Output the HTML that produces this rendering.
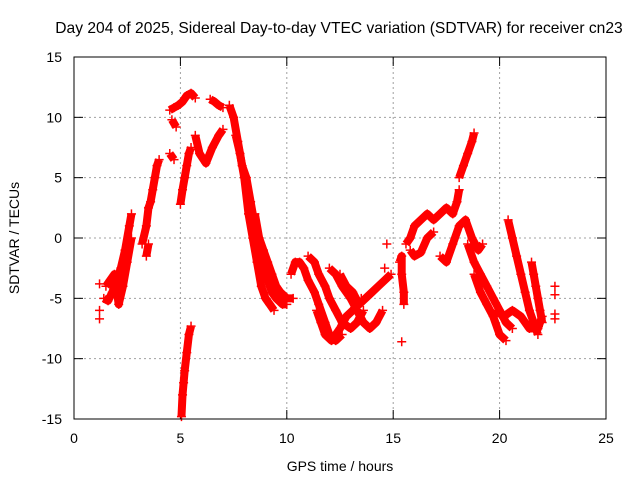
<!DOCTYPE html>
<html><head><meta charset="utf-8"><style>
body{margin:0;background:#fff}
svg text{font-family:"Liberation Sans",sans-serif;font-size:14px;fill:#000}
</style></head><body>
<svg id="chart" width="640" height="480" viewBox="0 0 640 480">
<rect width="640" height="480" fill="#fff"/>
<text x="339" y="33" text-anchor="middle" style="font-size:15.6px">Day 204 of 2025, Sidereal Day-to-day VTEC variation (SDTVAR) for receiver cn23</text>
<g id="grid"></g><g id="axes"></g><g id="marks"></g>
<rect x="74" y="57" width="532" height="362" fill="none" stroke="#000"/>
<text x="340" y="471" text-anchor="middle">GPS time / hours</text>
<text transform="translate(19,238) rotate(-90)" text-anchor="middle">SDTVAR / TECUs</text>
</svg>
<script>
const xTicks=[0,5,10,15,20,25];
const yTicks=[15,10,5,0,-5,-10,-15];
const tracks=[
[[1.4,-5],[1.6,-5.2],[1.8,-4.5],[2.0,-3.5],[2.2,-2.5],[2.4,-1],[2.6,1],[2.7,2]],
[[1.5,-4],[1.7,-3.5],[1.9,-3],[2.1,-5.5],[2.3,-4],[2.5,-2],[2.7,0]],
[[1.2,-3.8]],[[1.2,-6]],[[1.2,-6.7]],
[[3.2,-0.5],[3.4,1],[3.5,2.5],[3.6,3],[3.7,4],[3.8,5],[3.9,6],[4.0,6.5]],
[[3.4,-1.5],[3.5,-0.5]],
[[4.5,10.6],[4.7,10.8],[4.9,11],[5.1,11.3],[5.3,11.8],[5.5,12],[5.7,11.6]],
[[4.6,9.8],[4.8,9.2]],
[[6.4,11.5],[6.6,11.3],[6.8,11],[7.0,10.8]],
[[4.5,7],[4.7,6.5]],
[[5.0,2.8],[5.1,4],[5.2,5],[5.3,6],[5.4,7],[5.5,7.5]],
[[5.05,-14.8],[5.1,-13],[5.15,-12],[5.2,-11],[5.3,-9.5],[5.4,-8],[5.5,-7.3]],
[[5.7,8.5],[5.9,7],[6.2,6.2],[6.5,7.5],[6.8,8.5],[7.0,9]],
[[7.3,11],[7.5,10],[7.7,8],[7.9,6],[8.1,5],[8.3,3],[8.5,1],[8.7,-1],[8.9,-2.5],[9.1,-3.5],[9.3,-4.5],[9.5,-5],[9.8,-5.5],[10,-5.5]],
[[7.6,8.5],[7.8,7],[8.0,5],[8.2,2],[8.4,0],[8.6,-2],[8.8,-4],[9.0,-5],[9.2,-5.5],[9.4,-6]],
[[8.5,2],[8.7,0],[8.9,-1],[9.1,-2],[9.3,-3],[9.5,-4],[9.7,-4.5],[10,-5],[10.3,-5]],
[[10.2,-3],[10.4,-2],[10.6,-2],[10.8,-2.5],[11,-3.5],[11.3,-4.5],[11.5,-5.5],[11.8,-7],[12,-8],[12.3,-8.5],[12.6,-8]],
[[11,-1.5],[11.3,-2],[11.5,-3],[11.8,-4],[12,-5],[12.3,-6],[12.6,-7],[13,-7.5],[13.3,-7],[13.6,-6]],
[[12,-2.5],[12.3,-3],[12.6,-4],[13,-5],[13.3,-6],[13.6,-7],[13.9,-7.5],[14.2,-7],[14.5,-6]],
[[12.5,-3],[12.8,-4],[13.1,-4.5],[13.4,-5.5],[13.7,-5],[14,-4.5],[14.3,-4],[14.6,-3.5],[14.9,-3]],
[[11.4,-6],[11.6,-7],[11.8,-8],[12.1,-8.5],[12.5,-7.5],[12.8,-6.5],[13.1,-6],[13.5,-5]],
[[14.7,-0.5]],[[14.6,-2.5]],[[15.4,-8.6]],
[[15.3,-2],[15.4,-1.5],[15.4,-3],[15.5,-4.5],[15.5,-5.5]],
[[15.6,-0.5],[15.8,0],[16,1],[16.3,1.5],[16.6,2],[16.9,1.5],[17.2,2],[17.5,2.5],[17.8,2],[18,3],[18.1,4]],
[[15.8,-1],[16,-1.5],[16.3,-1.2],[16.6,0],[16.9,0.5]],
[[18.1,5],[18.3,6],[18.5,7],[18.7,8],[18.8,8.7]],
[[17.2,-1.5],[17.5,-2],[17.8,-0.5],[18.1,1],[18.4,1.5],[18.7,0],[19,-1],[19.2,-0.5]],
[[18.5,-0.5],[18.8,-2],[19.1,-3],[19.4,-4],[19.7,-5],[20,-6],[20.3,-7],[20.6,-7.5]],
[[18.8,-3],[19.1,-4.5],[19.4,-5.5],[19.7,-6.5],[20,-8],[20.3,-8.5]],
[[20.4,1.5],[20.6,0],[20.8,-1.5],[21,-3],[21.2,-4.5],[21.4,-6],[21.6,-7],[21.8,-8]],
[[19.8,-6],[20.2,-6.5],[20.6,-6],[21,-6.5],[21.4,-7.5],[21.8,-7.5],[22,-6.5]],
[[21.5,-2],[21.6,-3],[21.7,-4],[21.8,-5],[21.9,-6],[22,-7]],
[[22.6,-4]],[[22.6,-4.7]],[[22.6,-6.3]],[[22.6,-6.7]]
];
const X=v=>74+v*(532/25), Y=v=>238-v*(362/30);
const NS="http://www.w3.org/2000/svg";
function mk(t,a,p){const e=document.createElementNS(NS,t);for(const k in a)e.setAttribute(k,a[k]);p.appendChild(e);return e;}
const grid=document.getElementById('grid'),axes=document.getElementById('axes'),marks=document.getElementById('marks');
xTicks.forEach(t=>{const x=X(t);
 if(t>0&&t<25){const g=mk('line',{x1:x,x2:x,y1:57,y2:419,stroke:'#a0a0a0','stroke-dasharray':'2,3'},grid);
 
 }
 mk('line',{x1:x,x2:x,y1:419,y2:410,stroke:'#000'},axes);mk('line',{x1:x,x2:x,y1:57,y2:66,stroke:'#000'},axes);
 const l=mk('text',{x:x,y:443,'text-anchor':'middle'},axes);l.textContent=t;
 
 });
yTicks.forEach(t=>{const y=Y(t);
 if(t>-15&&t<15){const g=mk('line',{x1:74,x2:606,y1:y,y2:y,stroke:'#a0a0a0','stroke-dasharray':'2,3'},grid);
 
 }
 mk('line',{x1:74,x2:83,y1:y,y2:y,stroke:'#000'},axes);mk('line',{x1:597,x2:606,y1:y,y2:y,stroke:'#000'},axes);
 const l=mk('text',{x:62,y:y+5,'text-anchor':'end'},axes);l.textContent=t;
 
 });
tracks.forEach(tr=>{
 const g=mk('g',{},marks);
 
 
 if(tr.length>1)mk('polyline',{points:tr.map(p=>X(p[0])+','+Y(p[1])).join(' '),fill:'none',stroke:'#f00','stroke-width':8,'stroke-linejoin':'round'},g);
 tr.forEach(p=>{const x=X(p[0]),y=Y(p[1]);
  mk('path',{d:`M${x-4.5},${y}H${x+4.5}M${x},${y-4.5}V${y+4.5}`,stroke:'#f00','stroke-width':1.5},g);});
});
</script>
</body></html>
